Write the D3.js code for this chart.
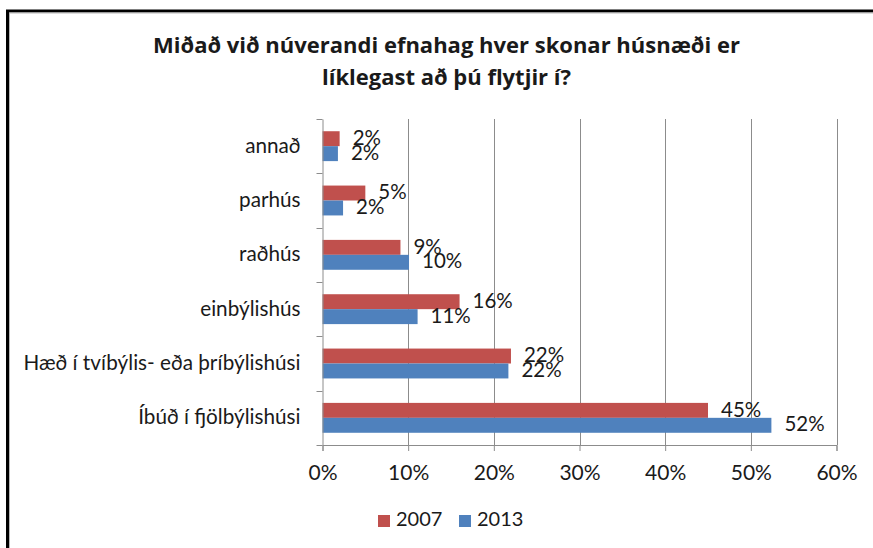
<!DOCTYPE html>
<html>
<head>
<meta charset="utf-8">
<script src="https://cdn.jsdelivr.net/npm/d3@7"></script>
<style>
  body { margin: 0; background: #fff; }
  svg text { font-family: Lato, "Open Sans", sans-serif; fill: #1a1a1a; }
</style>
</head>
<body>
<svg id="chart" width="873" height="548"></svg>
<script>
// categories top to bottom, values in percent
const categories = ["annað", "parhús", "raðhús", "einbýlishús",
    "Hæð í tvíbýlis- eða þríbýlishúsi", "Íbúð í fjölbýlishúsi"];
const series = ["2007", "2013"];
const values2007 = [2.0, 5.0, 9.1, 16.0, 22.0, 45.0];
const values2013 = [1.8, 2.4, 10.1, 11.1, 21.7, 52.4];
const labels2007 = ["2%", "5%", "9%", "16%", "22%", "45%"];
const labels2013 = ["2%", "2%", "10%", "11%", "22%", "52%"];
const xTicks = [0, 10, 20, 30, 40, 50, 60];
const colors = ["#C0504D", "#4F81BD"];

const svg = d3.select("#chart");

// outer frame
svg.append("path").attr("d", "M7.5,548 V11 H873")
    .attr("fill", "none").attr("stroke", "#000").attr("stroke-width", 3);
svg.append("path").attr("d", "M9.5,548 V13 H873")
    .attr("fill", "none").attr("stroke", "#b8b8b8").attr("stroke-width", 1);

// title
const title = svg.append("text").attr("text-anchor", "middle")
    .attr("font-size", 22).attr("font-weight", "bold")
    .style("font-family", "'Open Sans', Lato, sans-serif");
title.append("tspan").attr("x", 446.5).attr("y", 53)
    .text("Miðað við núverandi efnahag hver skonar húsnæði er");
title.append("tspan").attr("x", 446.5).attr("y", 85)
    .text("líklegast að þú flytjir í?");

const plotLeft = 322.5, plotRight = 836.5, plotTop = 119, plotBottom = 445;

const x = d3.scaleLinear().domain([0, 60]).range([plotLeft, plotRight]);
const y = d3.scaleBand().domain(categories).range([plotTop, plotBottom])
    .paddingInner(0.45).paddingOuter(0.225);
const ys = d3.scaleBand().domain(series).range([0, y.bandwidth()]);

// vertical gridlines
svg.append("g").selectAll("line").data(xTicks.slice(1)).enter().append("line")
    .attr("x1", d => Math.round(x(d)) + 0.5).attr("x2", d => Math.round(x(d)) + 0.5)
    .attr("y1", plotTop).attr("y2", plotBottom)
    .attr("stroke", "#8c8c8c").attr("stroke-width", 1);

// bars
const rows = categories.map((c, i) => ({c: c, v: [values2007[i], values2013[i]],
    l: [labels2007[i], labels2013[i]]}));
const grp = svg.append("g").selectAll("g").data(rows).enter().append("g")
    .attr("transform", d => "translate(0," + y(d.c) + ")");
series.forEach((s, k) => {
    grp.append("rect")
        .attr("x", plotLeft)
        .attr("y", ys(s))
        .attr("width", d => x(d.v[k]) - plotLeft)
        .attr("height", ys.bandwidth())
        .attr("fill", colors[k]);
    grp.append("text")
        .attr("x", d => x(d.v[k]) + 13)
        .attr("y", ys(s) + ys.bandwidth() / 2 + 1)
        .attr("dominant-baseline", "middle")
        .attr("font-size", 20.5)
        .text(d => d.l[k]);
});

// x axis
const xAxis = svg.append("g").attr("transform", "translate(0," + plotBottom + ")")
    .call(d3.axisBottom(x).tickValues(xTicks).tickFormat(d => d + "%")
        .tickSize(6).tickPadding(14));
xAxis.select(".domain").attr("stroke", "#8c8c8c");
xAxis.selectAll(".tick line").attr("stroke", "#8c8c8c");
xAxis.selectAll(".tick text").attr("font-size", 21).attr("font-family", "Lato, sans-serif")
    .attr("fill", "#1a1a1a");

// y axis
const yAxis = svg.append("g").attr("transform", "translate(" + plotLeft + ",0)")
    .call(d3.axisLeft(y).tickSize(0).tickPadding(22).tickSizeOuter(0));
yAxis.select(".domain").attr("stroke", "#8c8c8c");
yAxis.selectAll(".tick text").attr("font-size", 20.7).attr("font-family", "Lato, sans-serif")
    .attr("fill", "#1a1a1a");
yAxis.append("g").selectAll("line").data(d3.range(categories.length + 1)).enter().append("line")
    .attr("x1", -6).attr("x2", 0)
    .attr("y1", i => Math.round(plotTop + i * y.step()) + 0.5)
    .attr("y2", i => Math.round(plotTop + i * y.step()) + 0.5)
    .attr("stroke", "#8c8c8c");

// legend
const legend = svg.append("g").attr("transform", "translate(378,515)");
const items = legend.selectAll("g").data(series).enter().append("g")
    .attr("transform", (d, i) => "translate(" + i * 81 + ",0)");
items.append("rect").attr("width", 12).attr("height", 12)
    .attr("fill", (d, i) => colors[i]);
items.append("text").attr("x", 18).attr("y", 6).attr("dominant-baseline", "middle")
    .attr("font-size", 20).text(d => d);
</script>
</body>
</html>
